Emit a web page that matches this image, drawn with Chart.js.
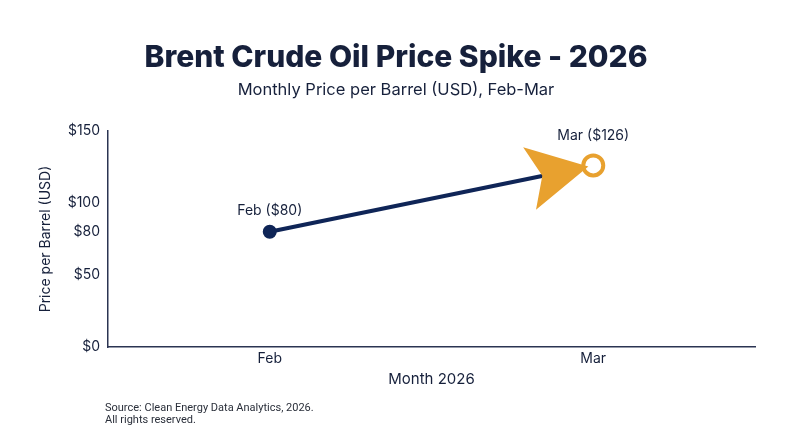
<!DOCTYPE html>
<html>
<head>
<meta charset="utf-8">
<script src="https://cdn.jsdelivr.net/npm/chart.js@4.4.0/dist/chart.umd.min.js"></script>
<style>
  html, body { margin: 0; padding: 0; background: #fff; }
  #wrap { width: 800px; height: 447px; }
</style>
</head>
<body>
<div id="wrap"><canvas id="oilChart"></canvas></div>
<script>
// data
const months = ['Feb', 'Mar'];
const prices = [80, 126];
const pointLabels = ['Feb ($80)', 'Mar ($126)'];
const yTicks = [0, 50, 80, 100, 150];
const sourceLines = ['Source: Clean Energy Data Analytics, 2026.', 'All rights reserved.'];

const navy = '#0f2557';
const ink = '#16203b';
const orange = '#e8a12f';

// arrowhead + point labels + footnote
const extras = {
    id: 'extras',
    afterDatasetsDraw(chart) {
        const ctx = chart.ctx;
        const pts = chart.getDatasetMeta(0).data;
        const a = pts[pts.length - 2], b = pts[pts.length - 1];
        const ang = Math.atan2(b.y - a.y, b.x - a.x);
        const ux = Math.cos(ang), uy = Math.sin(ang);
        const vx = -uy, vy = ux;
        const tx = b.x - 5 * ux, ty = b.y - 5 * uy;
        const len = 60, half = 32, notch = 47;
        ctx.save();
        ctx.fillStyle = orange;
        ctx.beginPath();
        ctx.moveTo(tx, ty);
        ctx.lineTo(tx - len * ux + half * vx, ty - len * uy + half * vy);
        ctx.lineTo(tx - notch * ux, ty - notch * uy);
        ctx.lineTo(tx - len * ux - half * vx, ty - len * uy - half * vy);
        ctx.closePath();
        ctx.fill();

        ctx.fillStyle = ink;
        ctx.font = '14px Inter';
        ctx.textAlign = 'center';
        ctx.textBaseline = 'middle';
        ctx.fillText(pointLabels[0], a.x, a.y - 21);
        ctx.fillText(pointLabels[1], b.x, b.y - 30);
        ctx.restore();
    },
    afterDraw(chart) {
        const ctx = chart.ctx;
        ctx.save();
        ctx.fillStyle = '#2a2f3a';
        ctx.font = '11px Roboto';
        ctx.textAlign = 'left';
        ctx.textBaseline = 'middle';
        sourceLines.forEach((t, i) => ctx.fillText(t, 105, 408 + i * 12));
        ctx.restore();
    }
};

new Chart(document.getElementById('oilChart'), {
    type: 'line',
    data: {
        labels: months,
        datasets: [{
            data: prices,
            borderColor: navy,
            borderWidth: 4,
            pointBackgroundColor: [navy, '#ffffff'],
            pointBorderColor: [navy, orange],
            pointBorderWidth: [2, 4],
            pointRadius: [6, 10],
            tension: 0
        }]
    },
    options: {
        responsive: true,
        maintainAspectRatio: false,
        animation: false,
        layout: { padding: { left: 37, right: 45, bottom: 55, top: 0 } },
        plugins: {
            legend: { display: false },
            tooltip: { enabled: false },
            title: {
                display: true,
                text: 'Brent Crude Oil Price Spike - 2026',
                color: ink,
                font: { family: 'Inter', size: 30, weight: '800' },
                padding: { top: 40, bottom: 4 }
            },
            subtitle: {
                display: true,
                text: 'Monthly Price per Barrel (USD), Feb-Mar',
                color: ink,
                font: { family: 'Inter', size: 16.5 },
                padding: { bottom: 31 }
            }
        },
        scales: {
            x: {
                offset: true,
                grid: { display: false, drawTicks: false },
                border: { display: true, color: '#2b3452', width: 1.5 },
                ticks: { color: ink, font: { family: 'Inter', size: 14 }, padding: 3 },
                title: { display: true, text: 'Month 2026', color: ink, font: { family: 'Inter', size: 15 }, padding: { top: 0 } }
            },
            y: {
                min: 0,
                max: 150,
                afterBuildTicks(scale) { scale.ticks = yTicks.map(v => ({ value: v })); },
                afterFit(scale) { scale.width = 71; },
                grid: { display: false, drawTicks: false },
                border: { display: true, color: '#2b3452', width: 1.5 },
                ticks: { color: ink, font: { family: 'Inter', size: 14 }, padding: 8, callback: v => '$' + v },
                title: { display: true, text: 'Price per Barrel (USD)', color: ink, font: { family: 'Inter', size: 14 }, padding: 0 }
            }
        }
    },
    plugins: [extras]
});
</script>
</body>
</html>
